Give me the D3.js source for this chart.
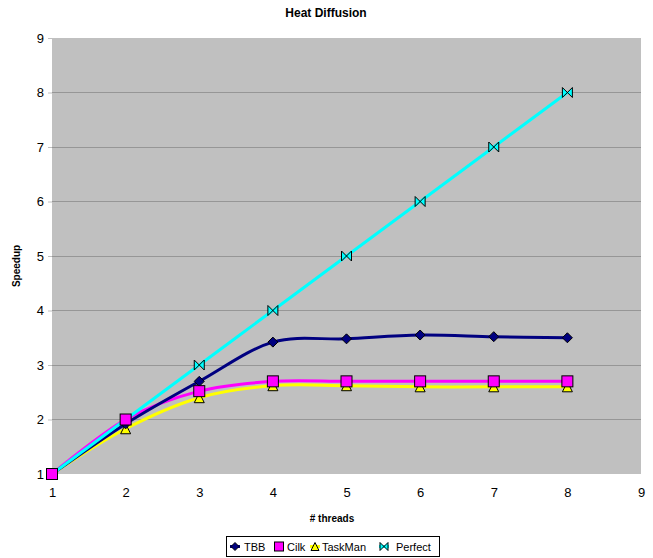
<!DOCTYPE html>
<html><head><meta charset="utf-8">
<script src="https://cdn.jsdelivr.net/npm/d3@7/dist/d3.min.js"></script>
<style>body{margin:0;background:#fff;} text{font-family:"Liberation Sans",Arial,sans-serif;}</style>
</head><body><svg id="c" width="653" height="558"></svg>
<script>
const threads = [1,2,3,4,5,6,7,8];
const tbb = [1,1.92,2.7,3.42,3.48,3.55,3.52,3.5];
const cilk = [1,2.0,2.52,2.7,2.7,2.7,2.7,2.7];
const taskman = [1,1.83,2.4,2.62,2.62,2.6,2.6,2.6];
const perfect = [1,2,3,4,5,6,7,8];
const xTicks = [1,2,3,4,5,6,7,8,9];
const yTicks = [1,2,3,4,5,6,7,8,9];
const seriesNames = ["TBB","Cilk","TaskMan","Perfect"];

const svg = d3.select("#c");
const L=52, R=641, T=38, B=474;
const x = d3.scaleLinear().domain([1,9]).range([L,R]);
const y = d3.scaleLinear().domain([1,9]).range([B,T]);

svg.append("rect").attr("x",L).attr("y",T).attr("width",R-L).attr("height",B-T).attr("fill","#C0C0C0");
svg.append("g").selectAll("line").data(yTicks.slice(1,-1)).join("line")
  .attr("x1",L).attr("x2",R).attr("y1",d=>y(d)).attr("y2",d=>y(d))
  .attr("stroke","#969696").attr("stroke-width",1).attr("shape-rendering","crispEdges");

const ya = svg.append("g").attr("transform",`translate(${L},0)`)
  .call(d3.axisLeft(y).tickValues(yTicks).tickSize(4).tickPadding(4).tickFormat(d3.format("d")));
ya.select(".domain").remove();
ya.selectAll("line").attr("stroke","#C0C0C0");
ya.selectAll("text").attr("font-size",13).attr("fill","#000").style("font-family","Liberation Sans, Arial, sans-serif");

const xa = svg.append("g").attr("transform",`translate(0,${B})`)
  .call(d3.axisBottom(x).tickValues(xTicks).tickSize(0).tickPadding(14).tickFormat(d3.format("d")));
xa.select(".domain").remove();
xa.selectAll("text").attr("font-size",13).attr("fill","#000").style("font-family","Liberation Sans, Arial, sans-serif");

svg.append("text").attr("x",326).attr("y",17).attr("text-anchor","middle")
  .attr("font-size",12).attr("font-weight","bold").text("Heat Diffusion");
svg.append("text").attr("transform","translate(20,266) rotate(-90)").attr("text-anchor","middle")
  .attr("font-size",10).attr("font-weight","bold").text("Speedup");
svg.append("text").attr("x",332).attr("y",522).attr("text-anchor","middle")
  .attr("font-size",10).attr("font-weight","bold").text("# threads");

const series = [
  {name:"TaskMan", vals:taskman, color:"#FFFF00", marker:"tri"},
  {name:"Cilk", vals:cilk, color:"#FF00FF", marker:"sq"},
  {name:"TBB", vals:tbb, color:"#000080", marker:"dia"},
  {name:"Perfect", vals:perfect, color:"#00FFFF", marker:"bow"}
];
const line = d3.line().x((d,i)=>x(threads[i])).y(d=>y(d)).curve(d3.curveCardinal.tension(0));

function marker(g, type, color, cx, cy, s){
  s = s || 5;
  if(type==="sq") g.append("rect").attr("x",cx-s-0.5).attr("y",cy-s-0.5).attr("width",2*s+1).attr("height",2*s+1)
      .attr("fill",color).attr("stroke","#000").attr("stroke-width",1);
  else if(type==="dia") g.append("path").attr("d",`M${cx},${cy-s}L${cx+s},${cy}L${cx},${cy+s}L${cx-s},${cy}Z`)
      .attr("fill",color).attr("stroke","#000").attr("stroke-width",1);
  else if(type==="tri") g.append("path").attr("d",`M${cx},${cy-s}L${cx+s},${cy+s}L${cx-s},${cy+s}Z`)
      .attr("fill",color).attr("stroke","#000").attr("stroke-width",1);
  else if(type==="bow") g.append("path").attr("d",`M${cx-s},${cy-s}L${cx+s},${cy+s}L${cx+s},${cy-s}L${cx-s},${cy+s}Z`)
      .attr("fill",color).attr("stroke","#000").attr("stroke-width",1).attr("stroke-linejoin","miter");
}

series.forEach(s=>{
  svg.append("path").attr("d",line(s.vals)).attr("fill","none").attr("stroke",s.color).attr("stroke-width",3);
});
const order = ["Perfect","TaskMan","TBB","Cilk"];
order.forEach(n=>{
  const s = series.find(d=>d.name===n);
  const g = svg.append("g");
  s.vals.forEach((v,i)=>marker(g,s.marker,s.color,x(threads[i]),y(v)));
});

// legend
const lg = svg.append("g");
lg.append("rect").attr("x",226.5).attr("y",536.5).attr("width",213).attr("height",20).attr("fill","#fff").attr("stroke","#000");
const legItems = [
  {name:"TBB", color:"#000080", marker:"dia", x:235, tx:244},
  {name:"Cilk", color:"#FF00FF", marker:"sq", x:279, tx:287},
  {name:"TaskMan", color:"#FFFF00", marker:"tri", x:315, tx:322},
  {name:"Perfect", color:"#00FFFF", marker:"bow", x:384, tx:396}
];
legItems.forEach(it=>{
  lg.append("line").attr("x1",it.x-5).attr("x2",it.x+5).attr("y1",546.5).attr("y2",546.5).attr("stroke",it.color).attr("stroke-width",3);
  marker(lg,it.marker,it.color,it.x,546.5,4);
  lg.append("text").attr("x",it.tx).attr("y",550.5).attr("font-size",11).text(it.name);
});
</script></body></html>
